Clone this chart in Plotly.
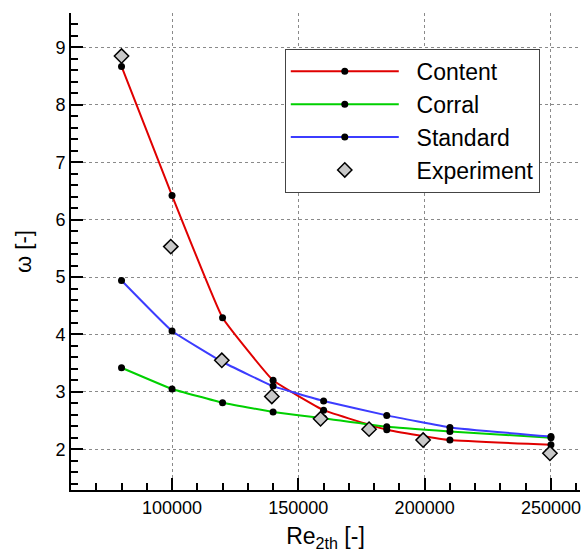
import plotly.graph_objects as go

# Reynolds numbers of the computed cases
re_sim = [80000, 100000, 120000, 140000, 160000, 185000, 210000, 250000]

# omega predicted by each transition correlation
omega_content = [8.67, 6.42, 4.29, 3.20, 2.68, 2.34, 2.16, 2.08]
omega_corral = [3.42, 3.05, 2.81, 2.65, 2.54, 2.39, 2.31, 2.20]
omega_standard = [4.94, 4.06, 3.52, 3.10, 2.84, 2.59, 2.38, 2.22]

# measured values
re_exp = [80000, 99500, 119700, 139500, 158800, 178000, 199400, 249600]
omega_exp = [8.85, 5.53, 3.55, 2.92, 2.53, 2.35, 2.16, 1.93]

series = [
    ("Content", omega_content, "#e00000"),
    ("Corral", omega_corral, "#00d000"),
    ("Standard", omega_standard, "#3c3cff"),
]

FONT = "Liberation Sans, Arial, sans-serif"
PAD = "\u00a0\u00a0"  # extra gap between legend sample and label

fig = go.Figure()
for name, vals, col in series:
    fig.add_trace(go.Scatter(
        x=re_sim, y=vals, name=PAD + name, mode="lines+markers",
        line=dict(color=col, width=2, shape="spline", smoothing=0.3),
        marker=dict(color="black", size=7, symbol="circle"),
    ))

fig.add_trace(go.Scatter(
    x=re_exp, y=omega_exp, name=PAD + "Experiment", mode="markers",
    marker=dict(symbol="diamond", size=11, color="#c8c8c8",
                line=dict(color="black", width=1.5)),
))

axis_common = dict(
    showline=True, linecolor="black", linewidth=2, mirror=False,
    ticks="inside", ticklen=12, tickwidth=2, tickcolor="black",
    showgrid=True, gridcolor="#8a8a8a", gridwidth=1, griddash="dot",
    zeroline=False,
    tickfont=dict(family=FONT, size=18, color="black"),
)

fig.update_xaxes(
    range=[60000, 261500], tickmode="linear", tick0=0, dtick=50000,
    tickformat="d",
    minor=dict(ticks="inside", ticklen=7, tickwidth=1.5, tickcolor="black",
               dtick=10000, tick0=0, showgrid=False),
    title=dict(text="Re<sub>2th</sub> [-]", standoff=13,
               font=dict(family=FONT, size=23, color="black")),
    **axis_common,
)
fig.update_yaxes(
    range=[1.29, 9.6], tickmode="linear", tick0=0, dtick=1,
    minor=dict(ticks="inside", ticklen=7, tickwidth=1.5, tickcolor="black",
               dtick=0.2, tick0=0, showgrid=False),
    title=dict(text="ω [-]", standoff=18,
               font=dict(family=FONT, size=22, color="black")),
    **axis_common,
)

fig.update_layout(
    width=583, height=552,
    margin=dict(l=71, r=3, t=13, b=62),
    paper_bgcolor="white", plot_bgcolor="white",
    showlegend=True,
    legend=dict(
        x=0.42, y=0.925, xanchor="left", yanchor="top",
        bgcolor="white", bordercolor="#444444", borderwidth=1,
        font=dict(family=FONT, size=23, color="black"),
        itemwidth=108, tracegroupgap=0,
    ),
)

fig.write_html("out.html")
